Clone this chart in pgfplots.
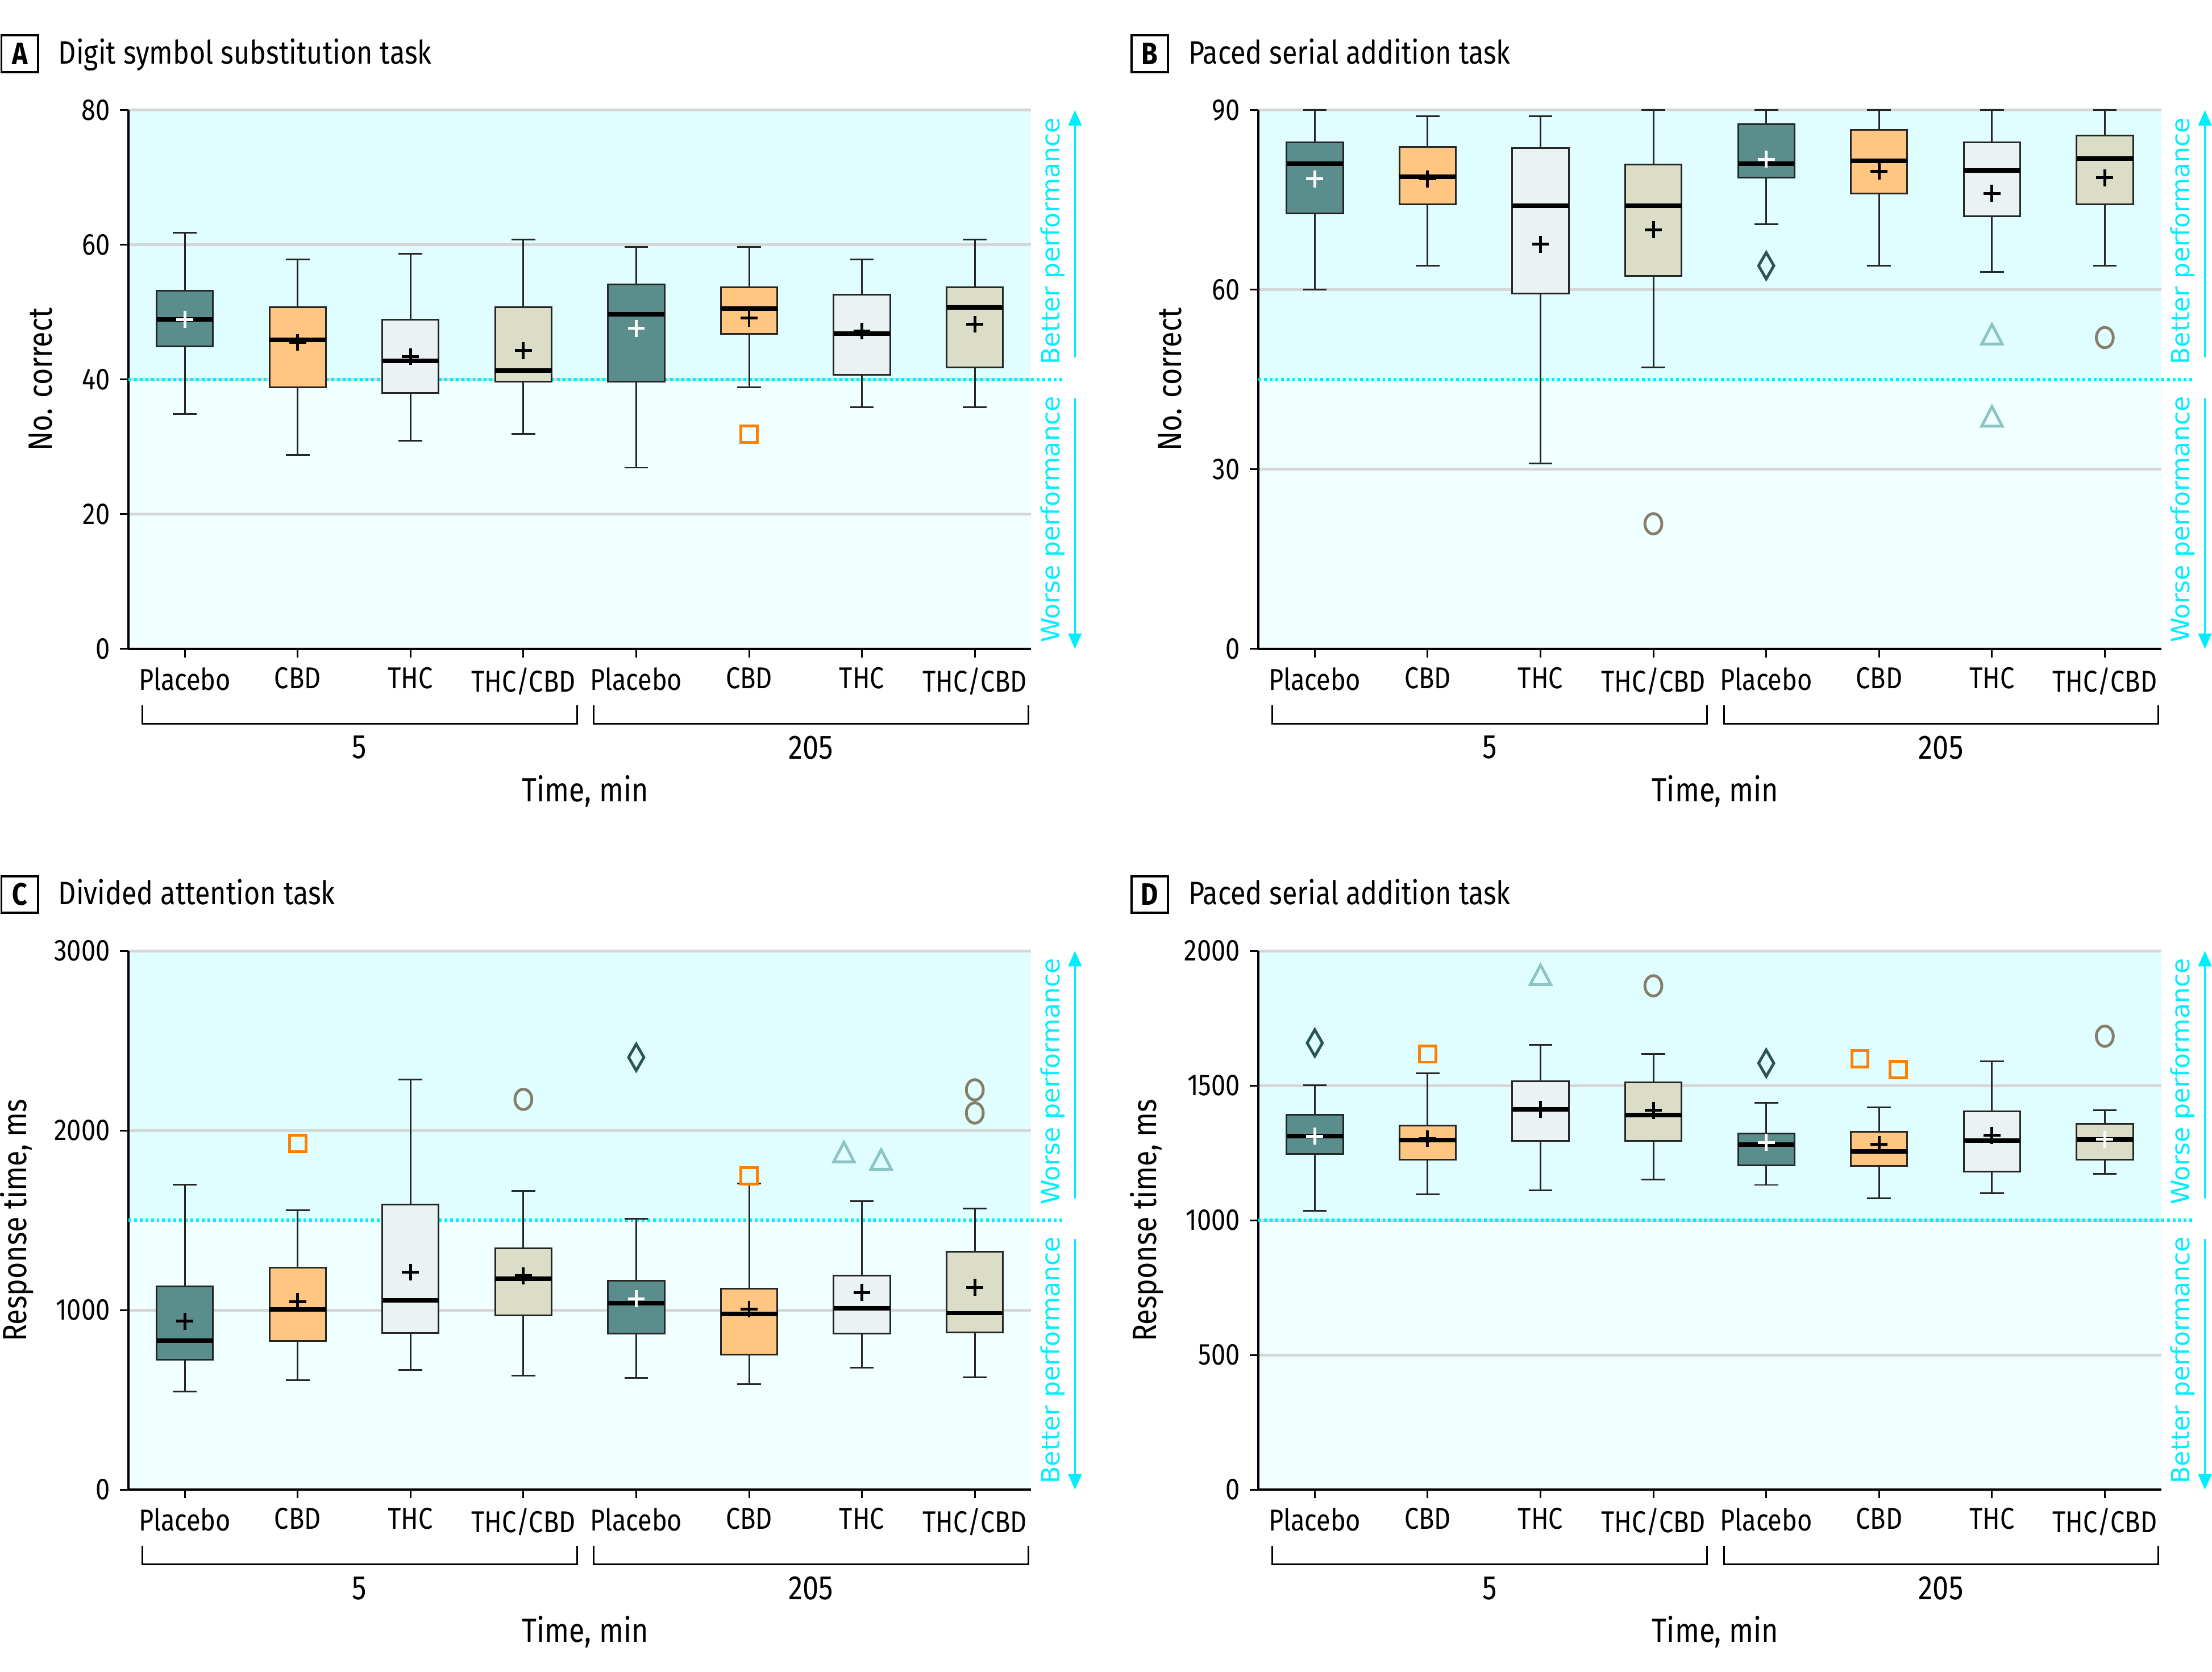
\documentclass[border=0pt]{standalone}
\usepackage{fontspec}
\setmainfont{Fira Sans}[FakeStretch=0.85]
\newfontfamily\arrfont{DejaVu Sans}
\usepackage{pgfplots}
\pgfplotsset{compat=1.18}
\usepgfplotslibrary{statistics}
\usetikzlibrary{arrows.meta}

\definecolor{cPla}{HTML}{5A8E8C}
\definecolor{cCBD}{HTML}{FEC680}
\definecolor{cTHC}{HTML}{EAF2F3}
\definecolor{cMix}{HTML}{DBDDC7}
\definecolor{oPla}{HTML}{2B5553}
\definecolor{oCBD}{HTML}{FF8000}
\definecolor{oTHC}{HTML}{8CC4C4}
\definecolor{oMix}{HTML}{857F6A}
\definecolor{bgUp}{HTML}{E0FEFF}
\definecolor{bgLow}{HTML}{F0FFFF}
\definecolor{cyn}{HTML}{00EEFF}
\definecolor{grd}{HTML}{D6D6D6}

% box: position, fill, low whisker, Q1, median, Q3, high whisker
\newcommand{\bx}[7]{\addplot[draw=black!85, line width=0.6pt,
  boxplot prepared={draw position=#1, lower whisker=#3, lower quartile=#4,
    median=#5, upper quartile=#6, upper whisker=#7,
    every box/.style={fill=#2}}] coordinates {};}

% threshold line, arrows, bracket, group labels
\newcommand{\decor}[2]{%
  \draw[cyn, line width=1.1pt, dash pattern=on 1pt off 1pt]
    (rel axis cs:0,0.5) -- (rel axis cs:1.0375,0.5);
  \node[rotate=90, anchor=east, inner sep=0pt, text=cyn, font=\arrfont\fontsize{8.9}{10}\selectfont]
    at (rel axis cs:1.024,0.987) {#1};
  \node[rotate=90, anchor=west, inner sep=0pt, text=cyn, font=\arrfont\fontsize{8.9}{10}\selectfont]
    at (rel axis cs:1.024,0.0104) {#2};
  \draw[cyn, line width=0.7pt, -{Triangle[width=4.7pt,length=5.5pt]}]
    (rel axis cs:1.0484,0.5405) -- (rel axis cs:1.0484,1);
  \draw[cyn, line width=0.7pt, -{Triangle[width=4.7pt,length=5.5pt]}]
    (rel axis cs:1.0484,0.4648) -- (rel axis cs:1.0484,0);
  \draw[line width=0.6pt] (axis description cs:0.0156,-0.1044) -- (axis description cs:0.0156,-0.1384)
    -- (axis description cs:0.497,-0.1384) -- (axis description cs:0.497,-0.1044);
  \draw[line width=0.6pt] (axis description cs:0.5156,-0.1044) -- (axis description cs:0.5156,-0.1384)
    -- (axis description cs:0.997,-0.1384) -- (axis description cs:0.997,-0.1044);
  \node[font=\fontsize{12}{14}\selectfont] at (axis description cs:0.256,-0.1828) {5};
  \node[font=\fontsize{12}{14}\selectfont] at (axis description cs:0.756,-0.1828) {205};
}

\newcommand{\ptitle}[2]{%
  \node[draw, line width=0.8pt, minimum size=13pt, inner sep=0pt,
    font=\bfseries\fontsize{11}{13}\selectfont] at (axis description cs:-0.1203,1.1044) {#1};
  \node[anchor=base west, inner sep=0pt, font=\fontsize{11.5}{14}\selectfont]
    at (axis description cs:-0.078,1.086) {#2};
}

\pgfplotsset{
  panel/.style={
    scale only axis, width=320pt, height=191pt,
    xmin=0.5, xmax=8.5, ymin=0,
    axis lines*=left, clip=false,
    axis line style={line width=0.8pt},
    axis background/.style={fill=bgLow, path picture={
      \fill[bgUp] (path picture bounding box.west) rectangle (path picture bounding box.north east);}},
    xtick={1,...,8},
    xticklabels={Placebo,CBD,THC,THC/CBD,Placebo,CBD,THC,THC/CBD},
    tick align=outside, major tick length=3pt,
    tick style={black, line width=0.6pt},
    ymajorgrids, grid style={grd, line width=1pt},
    boxplot/draw direction=y,
    boxplot/box extend=0.5, boxplot/whisker extend=0.21,
    boxplot/every median/.style={line width=1.6pt, black},
    /pgf/number format/1000 sep={},
    /pgf/number format/assume math mode=true,
    tick label style={font=\fontsize{10.7}{13}\selectfont},
    xlabel={Time, min},
    every axis x label/.style={at={(axis description cs:0.506,-0.264)}, anchor=center,
      font=\fontsize{11.9}{14}\selectfont},
  },
  ylab/.style={every axis y label/.style={at={(axis description cs:#1,0.5)}, rotate=90,
      anchor=center, font=\fontsize{11.9}{14}\selectfont}},
  mean/.style={only marks, mark=+, mark size=3pt, line width=1pt, draw=#1},
  outP/.style={only marks, mark=diamond, mark size=3.6pt, mark options={fill=white, draw=oPla, line width=1pt, yscale=1.3}},
  outC/.style={only marks, mark=square, mark size=2.9pt, mark options={fill=white, draw=oCBD, line width=1pt}},
  outT/.style={only marks, mark=triangle, mark size=4.2pt, mark options={fill=white, draw=oTHC, line width=1pt, yscale=1.1}},
  outM/.style={only marks, mark=o, mark size=3pt, mark options={fill=white, draw=oMix, line width=1pt, yscale=1.2}},
}

\begin{document}
\begin{tikzpicture}
\useasboundingbox (0pt,0pt) rectangle (784pt,-592.5pt);

% ---------------- A ----------------
\begin{axis}[panel, at={(45.5pt,-230pt)}, anchor=south west,
  ymax=80, ytick={0,20,40,60,80}, ylabel={No. correct}, ylab=-0.0969]
  \decor{Better performance}{Worse performance}
  \ptitle{A}{Digit symbol substitution task}
  \bx{1}{cPla}{34.9}{44.9}{48.9}{53.2}{61.8}
  \bx{2}{cCBD}{28.8}{38.8}{45.9}{50.7}{57.8}
  \bx{3}{cTHC}{30.9}{38.0}{42.8}{48.9}{58.7}
  \bx{4}{cMix}{31.9}{39.7}{41.3}{50.7}{60.8}
  \bx{5}{cPla}{26.9}{39.7}{49.7}{54.1}{59.7}
  \bx{6}{cCBD}{38.8}{46.8}{50.5}{53.7}{59.7}
  \bx{7}{cTHC}{35.9}{40.7}{46.8}{52.6}{57.8}
  \bx{8}{cMix}{35.9}{41.8}{50.7}{53.7}{60.8}
  \addplot[mean=black] coordinates {(2,45.5) (3,43.4) (4,44.3) (6,49.1) (7,47.2) (8,48.2)};
  \addplot[mean=white] coordinates {(1,48.9) (5,47.6)};
  \addplot[outC] coordinates {(6,31.9)};
\end{axis}

% ---------------- B ----------------
\begin{axis}[panel, at={(446pt,-230pt)}, anchor=south west,
  ymax=90, ytick={0,30,60,90}, ylabel={No. correct}, ylab=-0.098]
  \decor{Better performance}{Worse performance}
  \ptitle{B}{Paced serial addition task}
  \bx{1}{cPla}{60.0}{72.7}{81.0}{84.6}{90}
  \bx{2}{cCBD}{64.0}{74.3}{78.9}{83.8}{89}
  \bx{3}{cTHC}{31.0}{59.4}{74.0}{83.7}{89}
  \bx{4}{cMix}{47.0}{62.3}{74.0}{80.9}{90}
  \bx{5}{cPla}{70.9}{78.7}{81.0}{87.6}{90}
  \bx{6}{cCBD}{64.0}{76.1}{81.5}{86.7}{90}
  \bx{7}{cTHC}{63.0}{72.3}{79.9}{84.6}{90}
  \bx{8}{cMix}{64.0}{74.3}{81.9}{85.7}{90}
  \addplot[mean=black] coordinates {(2,78.5) (3,67.6) (4,70.0) (6,79.8) (7,76.1) (8,78.7)};
  \addplot[mean=white] coordinates {(1,78.5) (5,81.8)};
  \addplot[outP] coordinates {(5,64.0)};
  \addplot[outT] coordinates {(7,52.0) (7,38.3)};
  \addplot[outM] coordinates {(4,20.9) (8,52.0)};
\end{axis}

% ---------------- C ----------------
\begin{axis}[panel, at={(45.5pt,-528pt)}, anchor=south west,
  ymax=3000, ytick={0,1000,2000,3000}, ylabel={Response time, ms}, ylab=-0.1234]
  \decor{Worse performance}{Better performance}
  \ptitle{C}{Divided attention task}
  \bx{1}{cPla}{547}{724}{831}{1132}{1699}
  \bx{2}{cCBD}{609}{827}{1005}{1237}{1556}
  \bx{3}{cTHC}{666}{872}{1055}{1588}{2282}
  \bx{4}{cMix}{634}{971}{1174}{1344}{1663}
  \bx{5}{cPla}{622}{868}{1037}{1164}{1507}
  \bx{6}{cCBD}{589}{751}{977}{1118}{1703}
  \bx{7}{cTHC}{678}{868}{1011}{1191}{1606}
  \bx{8}{cMix}{626}{874}{983}{1324}{1564}
  \addplot[mean=black] coordinates {(1,938) (2,1047) (3,1211) (4,1191) (6,1005) (7,1098) (8,1126)};
  \addplot[mean=white] coordinates {(5,1063)};
  \addplot[outP] coordinates {(5,2407)};
  \addplot[outC] coordinates {(2,1927) (6,1746)};
  \addplot[outT] coordinates {(6.84,1861) (7.17,1820)};
  \addplot[outM] coordinates {(4,2173) (8,2226) (8,2097)};
\end{axis}

% ---------------- D ----------------
\begin{axis}[panel, at={(446pt,-528pt)}, anchor=south west,
  ymax=2000, ytick={0,500,1000,1500,2000}, ylabel={Response time, ms}, ylab=-0.1234]
  \decor{Worse performance}{Better performance}
  \ptitle{D}{Paced serial addition task}
  \bx{1}{cPla}{1036}{1245}{1312}{1392}{1501}
  \bx{2}{cCBD}{1096}{1224}{1297}{1352}{1546}
  \bx{3}{cTHC}{1110}{1295}{1412}{1516}{1651}
  \bx{4}{cMix}{1152}{1295}{1390}{1512}{1617}
  \bx{5}{cPla}{1131}{1204}{1281}{1322}{1436}
  \bx{6}{cCBD}{1081}{1201}{1255}{1328}{1418}
  \bx{7}{cTHC}{1100}{1180}{1295}{1405}{1590}
  \bx{8}{cMix}{1172}{1224}{1300}{1358}{1409}
  \addplot[mean=black] coordinates {(2,1303) (3,1411) (4,1408) (6,1282) (7,1315)};
  \addplot[mean=white] coordinates {(1,1312) (5,1289) (8,1300)};
  \addplot[outP] coordinates {(1,1658) (5,1583)};
  \addplot[outC] coordinates {(2,1617) (5.83,1599) (6.17,1559)};
  \addplot[outT] coordinates {(3,1899)};
  \addplot[outM] coordinates {(4,1870) (8,1683)};
\end{axis}
\end{tikzpicture}
\end{document}
